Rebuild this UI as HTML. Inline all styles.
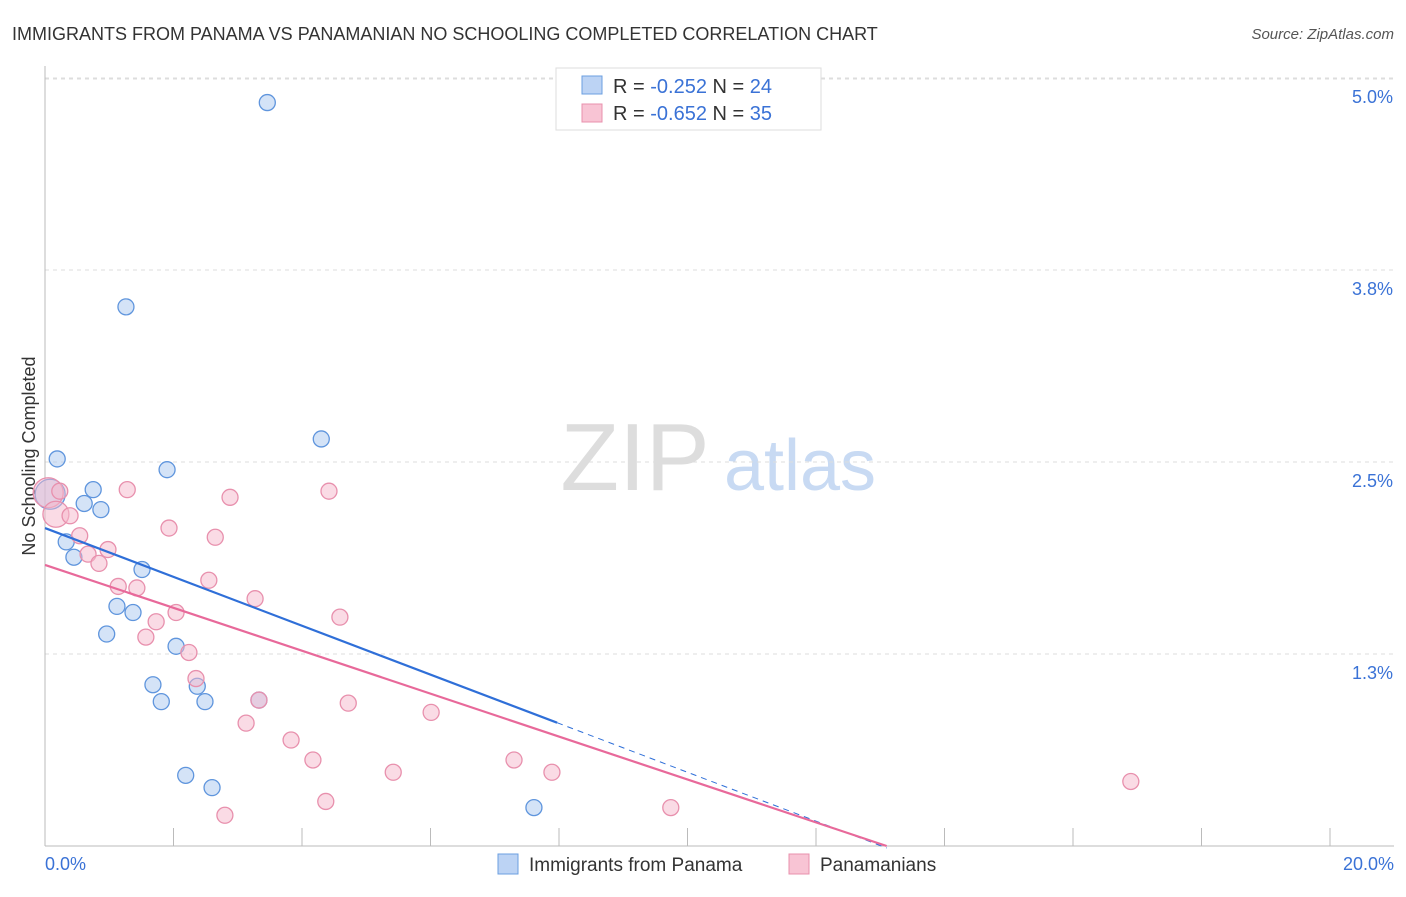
<!DOCTYPE html>
<html><head><meta charset="utf-8"><style>
body{margin:0;background:#fff;font-family:"Liberation Sans",sans-serif;}
svg text{font-family:"Liberation Sans",sans-serif;}
</style></head><body>
<svg id="c" width="1406" height="892" xmlns="http://www.w3.org/2000/svg">
<text x="12" y="40" font-size="18" fill="#333">IMMIGRANTS FROM PANAMA VS PANAMANIAN NO SCHOOLING COMPLETED CORRELATION CHART</text>
<text x="1394" y="39" font-size="15" fill="#555" font-style="italic" text-anchor="end">Source: ZipAtlas.com</text>
<text x="635" y="490" font-size="96" fill="#ddd" font-family="Liberation Serif" text-anchor="middle">ZIP</text>
<text x="800" y="490" font-size="72" fill="#c8daf3" text-anchor="middle">atlas</text>
<text x="35" y="456" font-size="18" fill="#333" text-anchor="middle" transform="rotate(-90 35 456)">No Schooling Completed</text>
<g id="grid"></g><g id="axes"></g><g id="pts"></g><g id="lines"></g>
<g>
<rect x="556" y="68" width="265" height="62" fill="#fff" stroke="#ddd"/>
<rect x="582" y="76" width="20" height="18" fill="#bcd3f4" stroke="#6b9fe0"/>
<text x="613" y="93" font-size="20" fill="#333">R = <tspan fill="#3a72d6">-0.252</tspan>   N = <tspan fill="#3a72d6">24</tspan></text>
<rect x="582" y="104" width="20" height="18" fill="#f8c4d4" stroke="#e890ad"/>
<text x="613" y="120" font-size="20" fill="#333">R = <tspan fill="#3a72d6">-0.652</tspan>   N = <tspan fill="#3a72d6">35</tspan></text>
</g>
<g>
<rect x="498" y="854" width="20" height="20" fill="#bcd3f4" stroke="#6b9fe0"/>
<text x="529" y="871" font-size="19" fill="#333">Immigrants from Panama</text>
<rect x="789" y="854" width="20" height="20" fill="#f8c4d4" stroke="#e890ad"/>
<text x="820" y="871" font-size="19" fill="#333">Panamanians</text>
</g>
</svg>
<script>
const yTicks=[1.25,2.5,3.75,5.0];
const yTickLabels=["1.3%","2.5%","3.8%","5.0%"];
const xTickLabels=["0.0%","20.0%"];
const blueX=[3.46,1.26,4.30,0.19,1.90,0.75,0.08,0.61,0.87,0.33,0.45,1.51,1.12,1.37,0.96,2.04,1.68,2.37,1.81,2.49,3.33,2.19,2.60,7.61];
const blueY=[4.84,3.51,2.65,2.52,2.45,2.32,2.29,2.23,2.19,1.98,1.88,1.80,1.56,1.52,1.38,1.30,1.05,1.04,0.94,0.94,0.95,0.46,0.38,0.25];
const pinkX=[0.05,0.17,0.23,0.39,0.54,0.67,0.84,0.98,1.14,1.28,1.43,1.57,1.73,1.93,2.04,2.24,2.35,2.55,2.65,2.88,3.13,3.27,3.33,3.83,4.17,4.37,4.42,4.59,4.72,5.42,6.01,7.30,7.89,9.74,2.80,16.90];
const pinkY=[2.30,2.16,2.31,2.15,2.02,1.90,1.84,1.93,1.69,2.32,1.68,1.36,1.46,2.07,1.52,1.26,1.09,1.73,2.01,2.27,0.80,1.61,0.95,0.69,0.56,0.29,2.31,1.49,0.93,0.48,0.87,0.56,0.48,0.25,0.20,0.42];
const blueTrend=[2.07,-0.159];
const pinkTrend=[1.83,-0.1397];
const sx=v=>45+v*64.25, sy=v=>846-v*153.6;
const NS="http://www.w3.org/2000/svg";
function mk(t,a,p){const e=document.createElementNS(NS,t);for(const k in a)e.setAttribute(k,a[k]);document.getElementById(p).appendChild(e);return e;}
yTicks.forEach((v,i)=>{
 const g=mk('line',{x1:45,x2:1394,y1:sy(v),y2:sy(v),stroke:'#ddd','stroke-dasharray':'4,4'},'grid');
 
 
 const t=mk('text',{x:1393,y:sy(v)+25,'font-size':18,fill:'#3a72d6','text-anchor':'end'},'grid');
 t.textContent=yTickLabels[i];
 
 
});
const tg=mk('line',{x1:45,x2:1394,y1:79,y2:79,stroke:'#ddd','stroke-dasharray':'4,4'},'grid');


const ya=mk('line',{x1:45,x2:45,y1:66,y2:846,stroke:'#bbb'},'axes');


const xa=mk('line',{x1:45,x2:1394,y1:846,y2:846,stroke:'#bbb'},'axes');


for(let i=0;i<=10;i++){const tk=mk('line',{x1:sx(i*2),x2:sx(i*2),y1:828,y2:846,stroke:'#bbb'},'axes');

}
[[45,'start',0],[1394,'end',1]].forEach(([x,a,i])=>{const t=mk('text',{x:x,y:870,'font-size':18,fill:'#3a72d6','text-anchor':a},'axes');t.textContent=xTickLabels[i];

});
function pts(X,Y,fill,stroke,name){X.forEach((x,i)=>{const r=(x<0.1)?15:(x<0.2&&Y[i]>2.1&&name==='pink')?13:8;
 const c=mk('circle',{cx:sx(x),cy:sy(Y[i]),r:r,fill:fill,'fill-opacity':0.5,stroke:stroke,'stroke-width':1.3},'pts');
 
 });}
pts(blueX,blueY,'#a9c8f0','#5f95dd','blue');
pts(pinkX,pinkY,'#f5b8cb','#e890ad','pink');
const b1=mk('line',{x1:sx(0),y1:sy(blueTrend[0]),x2:sx(7.97),y2:sy(blueTrend[0]+blueTrend[1]*7.97),stroke:'#2f6fd8','stroke-width':2.2},'lines');


const b2=mk('line',{x1:sx(7.97),y1:sy(blueTrend[0]+blueTrend[1]*7.97),x2:sx(13.1),y2:sy(blueTrend[0]+blueTrend[1]*13.1),stroke:'#2f6fd8','stroke-width':1,'stroke-dasharray':'6,5'},'lines');


const xe=-pinkTrend[0]/pinkTrend[1];
const p1=mk('line',{x1:sx(0),y1:sy(pinkTrend[0]),x2:sx(xe),y2:sy(0),stroke:'#e8699a','stroke-width':2.2},'lines');


</script>
</body></html>
